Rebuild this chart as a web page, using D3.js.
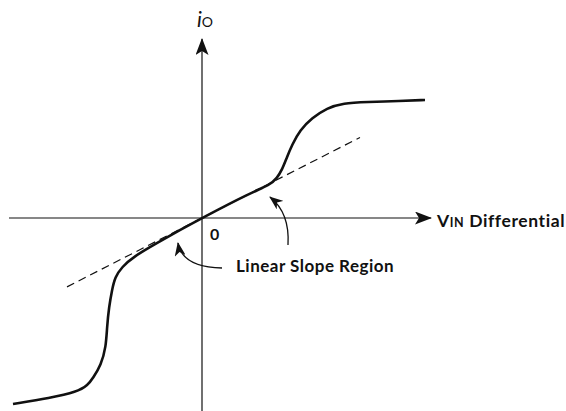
<!DOCTYPE html>
<html>
<head>
<meta charset="utf-8">
<script src="https://cdn.jsdelivr.net/npm/d3@7"></script>
<style>
  body { margin: 0; background: #fff; }
  text { font-family: Lato, "Open Sans", sans-serif; fill: #111; }
</style>
</head>
<body>
<div id="chart"></div>
<script>
// transfer curve (v = input, i = output current)
const curveV = [-1.89, -1.52, -1.25, -1.14, -1.09, -1.01, -0.96, -0.95, -0.93, -0.90, -0.87, -0.80, -0.69, -0.45, -0.22, 0, 0.48, 0.68, 0.75, 0.80, 0.85, 0.90, 0.98, 1.10, 1.25, 1.41, 1.65, 1.98, 2.23];
const curveI = [-1.86, -1.80, -1.74, -1.67, -1.60, -1.47, -1.29, -1.09, -0.89, -0.72, -0.59, -0.49, -0.39, -0.25, -0.12, 0, 0.25, 0.33, 0.40, 0.48, 0.61, 0.73, 0.88, 1.00, 1.10, 1.15, 1.16, 1.17, 1.18];
// linear slope (dashed)
const slopeV = [-1.35, 1.58];
const slope = 0.51;
// axis extents
const xAxisExtent = [-1.93, 2.29];
const yAxisExtent = [-1.93, 1.79];
// annotation arrows [start, control, end]
const arrowLeft = [[0.20, -0.50], [-0.20, -0.49], [-0.24, -0.25]];
const arrowRight = [[0.86, -0.27], [0.88, 0.05], [0.68, 0.21]];

let width = 566, height = 411;

const svg = d3.select("#chart")
    .append("svg")
    .attr("width", width)
    .attr("height", height);

let x = d3.scaleLinear().domain([-2, 2.2]).range([2, 422]);
let y = d3.scaleLinear().domain([-2, 1.8]).range([418, 38]);

const defs = svg.append("defs");
defs.append("marker")
    .attr("id", "axisHead")
    .attr("markerUnits", "userSpaceOnUse")
    .attr("viewBox", "0 0 17 13")
    .attr("refX", 16).attr("refY", 6.5)
    .attr("markerWidth", 17).attr("markerHeight", 13)
    .attr("orient", "auto")
    .append("path")
    .attr("d", "M0,0 L17,6.5 L0,13 L4,6.5 Z")
    .attr("fill", "#111");
defs.append("marker")
    .attr("id", "noteHead")
    .attr("markerUnits", "userSpaceOnUse")
    .attr("viewBox", "0 0 14 11")
    .attr("refX", 13).attr("refY", 5.5)
    .attr("markerWidth", 14).attr("markerHeight", 11)
    .attr("orient", "auto")
    .append("path")
    .attr("d", "M0,0 L14,5.5 L0,11 L4,5.5 Z")
    .attr("fill", "#111");

// axes
svg.append("line")
    .attr("x1", x(xAxisExtent[0])).attr("x2", x(xAxisExtent[1]))
    .attr("y1", y(0)).attr("y2", y(0))
    .attr("stroke", "#111").attr("stroke-width", 1.2)
    .attr("marker-end", "url(#axisHead)");
svg.append("line")
    .attr("x1", x(0)).attr("x2", x(0))
    .attr("y1", y(yAxisExtent[0])).attr("y2", y(yAxisExtent[1]))
    .attr("stroke", "#111").attr("stroke-width", 1.2)
    .attr("marker-end", "url(#axisHead)");

// dashed linear slope
svg.append("line")
    .attr("x1", x(slopeV[0])).attr("y1", y(slopeV[0] * slope))
    .attr("x2", x(slopeV[1])).attr("y2", y(slopeV[1] * slope))
    .attr("stroke", "#111").attr("stroke-width", 1.2)
    .attr("stroke-dasharray", "8,5");

// transfer curve
let line = d3.line()
    .x((d) => x(d[0]))
    .y((d) => y(d[1]))
    .curve(d3.curveBasis);

svg.append("path")
    .datum(curveV.map((v, k) => [v, curveI[k]]))
    .attr("fill", "none")
    .attr("stroke", "#111")
    .attr("stroke-width", 2.6)
    .attr("stroke-linejoin", "round")
    .attr("d", line);

// annotation arrows
for (let a of [arrowLeft, arrowRight]) {
    let p = d3.path();
    p.moveTo(x(a[0][0]), y(a[0][1]));
    p.quadraticCurveTo(x(a[1][0]), y(a[1][1]), x(a[2][0]), y(a[2][1]));
    svg.append("path")
        .attr("d", p.toString())
        .attr("fill", "none")
        .attr("stroke", "#111")
        .attr("stroke-width", 1.3)
        .attr("marker-end", "url(#noteHead)");
}

// labels
let iLabel = svg.append("text")
    .attr("x", x(0) - 5)
    .attr("y", 27);
iLabel.append("tspan").attr("font-style", "italic").attr("font-size", 21).text("i");
iLabel.append("tspan").attr("font-size", 14).text("O");

let vLabel = svg.append("text")
    .attr("x", 437)
    .attr("y", 227)
    .attr("font-weight", "bold")
    .attr("letter-spacing", 0.6);
vLabel.append("tspan").attr("font-size", 17.5).text("V");
vLabel.append("tspan").attr("font-size", 12.5).text("IN");
vLabel.append("tspan").attr("font-size", 17.5).text(" Differential");

svg.append("text")
    .attr("x", x(0) + 8)
    .attr("y", 240)
    .attr("font-weight", "bold")
    .attr("font-size", 16)
    .text("0");

svg.append("text")
    .attr("x", 236)
    .attr("y", 272)
    .attr("font-weight", "bold")
    .attr("font-size", 17)
    .attr("letter-spacing", 0.5)
    .text("Linear Slope Region");
</script>
</body>
</html>
